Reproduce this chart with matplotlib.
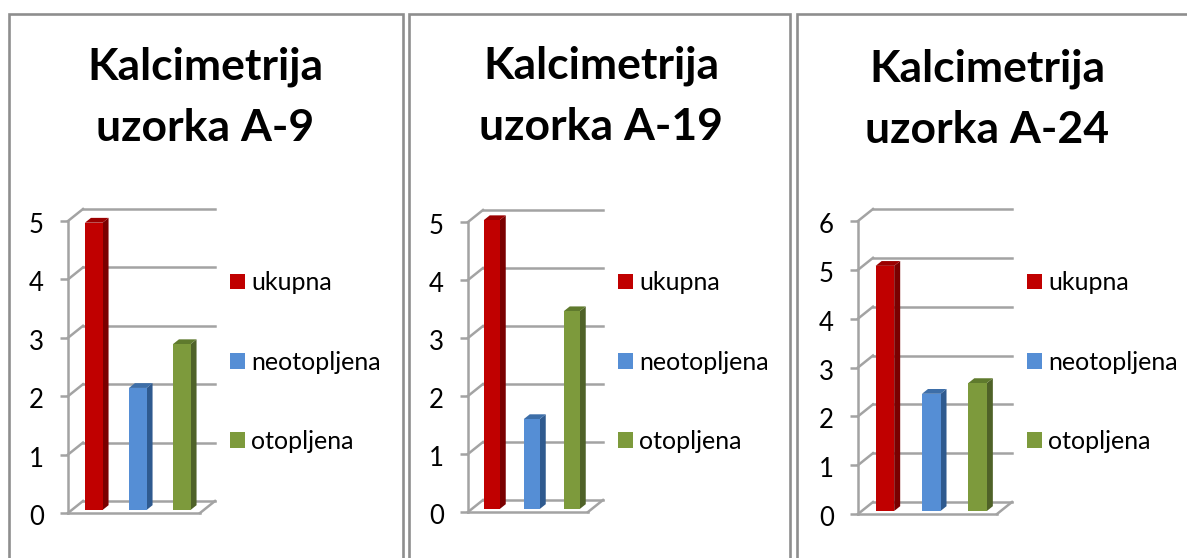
import matplotlib
matplotlib.use('Agg')
import matplotlib.pyplot as plt
from matplotlib.patches import Polygon, Rectangle, Patch
from matplotlib.transforms import Affine2D

plt.rcParams['font.family'] = ['Lato', 'DejaVu Sans']

W, H = 1187, 558

labels = ['ukupna', 'neotopljena', 'otopljena']
titles = ['Kalcimetrija\nuzorka A-9', 'Kalcimetrija\nuzorka A-19', 'Kalcimetrija\nuzorka A-24']
values_a9 = [4.92, 2.09, 2.84]
values_a19 = [4.98, 1.55, 3.41]
values_a24 = [5.02, 2.40, 2.62]
ymax_list = [5, 5, 6]

front = ['#c00000', '#558ed5', '#7d9a3c']
side = ['#7a0000', '#2f5a8f', '#4f6228']
top = ['#9b0000', '#3d6ea8', '#5f7a2d']
GRID = '#a3a3a3'
BORDER = '#8e8e8e'

# panel layout in pixels: wall left, wall right, y of 0, y of max, title x, title y, legend x
layout = [
    (68, 200, 513, 221, 205, 97, 230),
    (468, 588, 512, 222, 601, 96, 618),
    (858, 997, 514, 221, 987, 99, 1027),
]
# border boxes: left, right
boxes = [(9, 403), (409, 790), (797, 1200)]
DX, DY = 15, 12


def draw_panel(fig, vals, ymax, title, lay):
    x0, x1, y0, y1, tx, ty, lx = lay
    ax = fig.add_axes([x0 / W, 1 - y0 / H, (x1 - x0) / W, (y0 - y1) / H])
    ax.set_xlim(0, 3)
    ax.set_ylim(0, ymax)
    ax.patch.set_visible(False)
    ddx = DX / (x1 - x0) * 3
    ddy = DY / (y0 - y1) * ymax

    # back wall and side wall lines
    for t in range(ymax + 1):
        ax.plot([0, ddx], [t, t + ddy], color=GRID, lw=1.8, clip_on=False, zorder=1)
        ax.plot([ddx, 3 + ddx], [t + ddy, t + ddy], color=GRID, lw=1.8, clip_on=False, zorder=1)
    ax.plot([3, 3 + ddx], [0, ddy], color=GRID, lw=1.8, clip_on=False, zorder=1)

    # bars sit inside the depth of the floor
    d1, d2 = 0.25, 0.65
    w = 0.4
    xs = [0.5, 1.5, 2.5]
    for x, v, c0, c1, c2 in zip(xs, vals, front, side, top):
        l = x - w / 2 + d1 * ddx
        r = x + w / 2 + d1 * ddx
        b = d1 * ddy
        sx = (d2 - d1) * ddx
        sy = (d2 - d1) * ddy
        ax.add_patch(Polygon([(r, b), (r + sx, b + sy), (r + sx, b + sy + v), (r, b + v)],
                             closed=True, fc=c1, ec='none', clip_on=False, zorder=3))
        ax.add_patch(Polygon([(l, b + v), (r, b + v), (r + sx, b + v + sy), (l + sx, b + v + sy)],
                             closed=True, fc=c2, ec='none', clip_on=False, zorder=3))
        ax.bar(x + d1 * ddx, v, w, bottom=b, color=c0, clip_on=False, zorder=4)

    for s in ['top', 'right']:
        ax.spines[s].set_visible(False)
    for s in ['left', 'bottom']:
        ax.spines[s].set_color(GRID)
        ax.spines[s].set_linewidth(1.8)
    ax.set_xticks([])
    ax.set_yticks(range(ymax + 1))
    ax.tick_params(axis='y', length=5.5, width=1.8, color=GRID, labelsize=18.5, pad=12, labelcolor='black')
    # digits sit a little below their tick in the original
    for lab in ax.get_yticklabels():
        lab.set_transform(lab.get_transform() + Affine2D().translate(0, -2))

    handles = [Patch(fc=c, ec='none') for c in front]
    ax.legend(handles, labels, loc='center left', frameon=False, fontsize=18,
              bbox_to_anchor=(lx / W, 1 - 362 / H), bbox_transform=fig.transFigure,
              borderaxespad=0, borderpad=0, handlelength=0.6, handleheight=0.6,
              handletextpad=0.24, labelspacing=2.25, labelcolor='black')

    fig.text(tx / W, 1 - ty / H, title, ha='center', va='center', fontsize=32,
             fontweight='bold', color='black', linespacing=1.64)


def run():
    fig = plt.figure(figsize=(W / 100, H / 100), dpi=100, facecolor='white')
    for left, right in boxes:
        fig.add_artist(Rectangle((left / W, -0.1), (right - left) / W, 1.1 - 14 / H,
                                 transform=fig.transFigure, fc='white', ec=BORDER, lw=1.9,
                                 zorder=-1))
    series = [values_a9, values_a19, values_a24]
    for vals, ymax, title, lay in zip(series, ymax_list, titles, layout):
        draw_panel(fig, vals, ymax, title, lay)
    fig.savefig('out.png', dpi=100)
    plt.close(fig)


if __name__ == '__main__':
    run()
